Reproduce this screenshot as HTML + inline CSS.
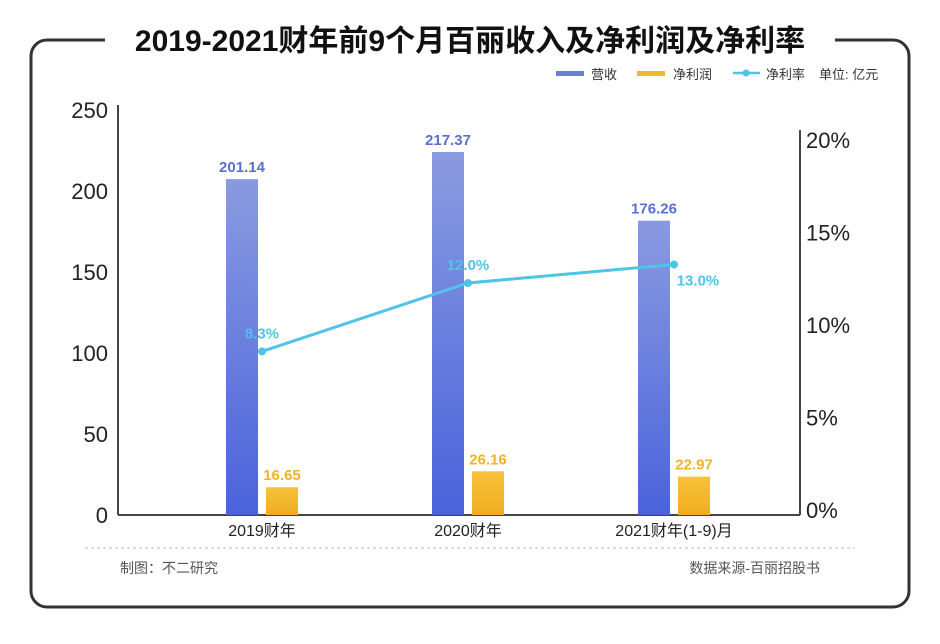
<!DOCTYPE html>
<html><head><meta charset="utf-8"><style>
body{margin:0;background:#fff;}
svg{display:block;font-family:"Liberation Sans","Noto Sans CJK SC",sans-serif;}
</style></head><body>
<svg width="940" height="644">
<defs>
<linearGradient id="gRev" x1="0" y1="0" x2="0" y2="1"><stop offset="0" stop-color="#8a9ae0"/><stop offset="1" stop-color="#4a63dc"/></linearGradient>
<linearGradient id="gProf" x1="0" y1="0" x2="0" y2="1"><stop offset="0" stop-color="#f7c23c"/><stop offset="1" stop-color="#f0ad1e"/></linearGradient>
</defs>
<rect x="31" y="40" width="878" height="567" rx="16" fill="none" stroke="#333" stroke-width="3"/>
<rect x="105" y="20" width="730" height="40" fill="#fff"/>
<text x="470" y="51" text-anchor="middle" font-size="30" font-weight="bold" fill="#111">2019-2021财年前9个月百丽收入及净利润及净利率</text>
<g font-size="13" fill="#333">
<rect x="556" y="71" width="28" height="5" fill="#6a7fd6"/><text x="591" y="79">营收</text>
<rect x="637" y="71" width="28" height="5" fill="#f2b930"/><text x="673" y="79">净利润</text>
<line x1="733" y1="73" x2="760" y2="73" stroke="#4fc3e8" stroke-width="2.5"/><circle cx="746" cy="73" r="3.5" fill="#4fc3e8"/><text x="766" y="79">净利率</text>
<text x="819" y="79">单位: 亿元</text>
</g>
<g id="plot"></g>
<line x1="85" y1="548" x2="855" y2="548" stroke="#bbb" stroke-dasharray="3,3"/>
<text x="120" y="573" font-size="14" fill="#555">制图：不二研究</text>
<text x="820" y="573" font-size="14" fill="#555" text-anchor="end">数据来源-百丽招股书</text>
</svg>
<script>
const categories=["2019财年","2020财年","2021财年(1-9)月"];
const revenue=[201.14,217.37,176.26];
const profit=[16.65,26.16,22.97];
const margin=[8.3,12.0,13.0];
const leftTicks=[0,50,100,150,200,250];
const rightTicks=[0,5,10,15,20];
const NS="http://www.w3.org/2000/svg";
const g=document.getElementById('plot');
const X0=118,X1=800,Y0=515;
function yL(v){return Y0-v*1.62;}
function yB(v){return Y0-v*1.67;}
function yR(v){return 510-v*18.5;}
function yM(v){return 505-v*18.5;}
function xC(i){return 262+i*206;}
function mk(t,a,txt){const e=document.createElementNS(NS,t);for(const k in a)e.setAttribute(k,a[k]);if(txt!=null)e.textContent=txt;g.appendChild(e);return e;}
let e;
e=mk('line',{x1:X0,y1:105,x2:X0,y2:Y0,stroke:'#444','stroke-width':2});

e=mk('line',{x1:X1,y1:130,x2:X1,y2:Y0,stroke:'#444','stroke-width':2});

e=mk('line',{x1:X0,y1:Y0,x2:X1,y2:Y0,stroke:'#444','stroke-width':2});

leftTicks.forEach(v=>{e=mk('text',{x:108,y:yL(v)+8,'text-anchor':'end','font-size':22,fill:'#222'},v);
});
rightTicks.forEach(v=>{e=mk('text',{x:806,y:yR(v)+8,'font-size':22,fill:'#222'},v+'%');
});
categories.forEach((c,i)=>{
 const cx=xC(i);
 e=mk('text',{x:cx,y:536,'text-anchor':'middle','font-size':16,fill:'#222'},c);
 
 const rt=yB(revenue[i]);
 e=mk('rect',{x:cx-36,y:rt,width:32,height:Y0-rt,fill:'url(#gRev)'});
 
 e=mk('text',{x:cx-20,y:rt-7,'text-anchor':'middle','font-size':15,'font-weight':'bold',fill:'#5b6fcf'},revenue[i].toFixed(2));
 
 const pt=yB(profit[i]);
 e=mk('rect',{x:cx+4,y:pt,width:32,height:Y0-pt,fill:'url(#gProf)'});
 
 e=mk('text',{x:cx+20,y:pt-7,'text-anchor':'middle','font-size':15,'font-weight':'bold',fill:'#f2b22a'},profit[i].toFixed(2));
 
});
e=mk('polyline',{points:margin.map((m,i)=>xC(i)+','+yM(m)).join(' '),fill:'none',stroke:'#4fc3e8','stroke-width':3});

margin.forEach((m,i)=>{
 e=mk('circle',{cx:xC(i),cy:yM(m),r:4,fill:'#4fc3e8'});
 
 const last=i===margin.length-1;
 e=mk('text',{x:last?xC(i)+24:xC(i),y:last?yM(m)+21:yM(m)-13,'text-anchor':'middle','font-size':15,'font-weight':'bold',fill:'#4fc3e8'},m.toFixed(1)+'%');
 
});
</script>
</body></html>
